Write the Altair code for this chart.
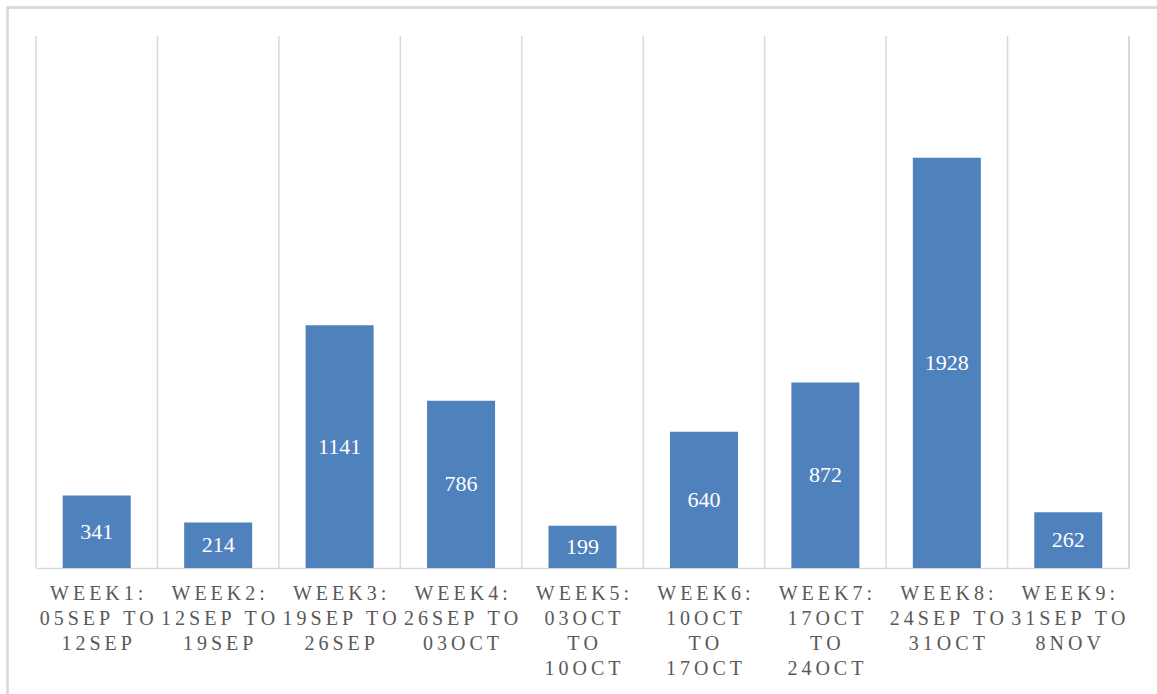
import altair as alt
import pandas as pd

# Weekly counts, one bar per week
weeks = ["WEEK1", "WEEK2", "WEEK3", "WEEK4", "WEEK5", "WEEK6", "WEEK7", "WEEK8", "WEEK9"]
label_lines = [
    ["WEEK1:", "05SEP TO", "12SEP"],
    ["WEEK2:", "12SEP TO", "19SEP"],
    ["WEEK3:", "19SEP TO", "26SEP"],
    ["WEEK4:", "26SEP TO", "03OCT"],
    ["WEEK5:", "03OCT", "TO", "10OCT"],
    ["WEEK6:", "10OCT", "TO", "17OCT"],
    ["WEEK7:", "17OCT", "TO", "24OCT"],
    ["WEEK8:", "24SEP TO", "31OCT"],
    ["WEEK9:", "31SEP TO", "8NOV"],
]
counts = [341, 214, 1141, 786, 199, 640, 872, 1928, 262]

W, H = 1093, 532
FONT = "Liberation Serif"
GRID = "#D9D9D9"
THIN = "\u2009"  # thin space, used to track the axis letters apart


def tracked(line):
    return THIN.join(line)


labels = ["|".join(tracked(l) for l in lines) for lines in label_lines]

df = pd.DataFrame({"week": weeks, "label": labels, "count": counts})
df["mid"] = df["count"] / 2

order = labels
x_scale = alt.Scale(domain=order, paddingInner=0, paddingOuter=0)
y_scale = alt.Scale(domain=[0, 2500], nice=False)

x_axis = alt.Axis(
    title=None,
    labelAngle=0,
    ticks=False,
    grid=False,
    domainColor=GRID,
    domainWidth=1.5,
    labelFont=FONT,
    labelFontSize=20,
    labelColor="#595959",
    labelPadding=15,
    labelLineHeight=25.3,
    labelBaseline="top",
    labelExpr="split(datum.label, '|')",
)

base = alt.Chart(df)

grid = base.mark_rule(color=GRID, strokeWidth=1.5).encode(
    x=alt.X("label:N", scale=x_scale, sort=order, bandPosition=0, axis=x_axis),
    y=alt.value(0),
    y2=alt.value(H),
)

right_edge = base.mark_rule(color=GRID, strokeWidth=1.5).encode(
    x=alt.value(W), y=alt.value(0), y2=alt.value(H)
)

bars = base.mark_bar(color="#4F81BD", width=alt.RelativeBandSize(0.56)).encode(
    x=alt.X("label:N", scale=x_scale, sort=order, axis=x_axis),
    y=alt.Y("count:Q", scale=y_scale, axis=None),
)

values = base.mark_text(
    color="white", font=FONT, fontSize=22, baseline="middle", align="center"
).encode(
    x=alt.X("label:N", scale=x_scale, sort=order, axis=x_axis),
    y=alt.Y("mid:Q", scale=y_scale, axis=None),
    text=alt.Text("count:Q"),
)

frame = base.mark_rect(
    filled=False, stroke=GRID, strokeWidth=1.5, clip=False
).encode(
    x=alt.value(-28.5), x2=alt.value(W + 100), y=alt.value(-28.5), y2=alt.value(H + 300)
)

chart = (
    alt.layer(frame, grid, right_edge, bars, values)
    .properties(
        width=W,
        height=H,
        padding={"left": 36, "top": 36, "right": 28, "bottom": 126},
        autosize=alt.AutoSizeParams(type="none"),
        background="white",
    )
    .configure_view(stroke=None)
)

chart.save("out.html", embed_options={"renderer": "svg", "actions": False})
